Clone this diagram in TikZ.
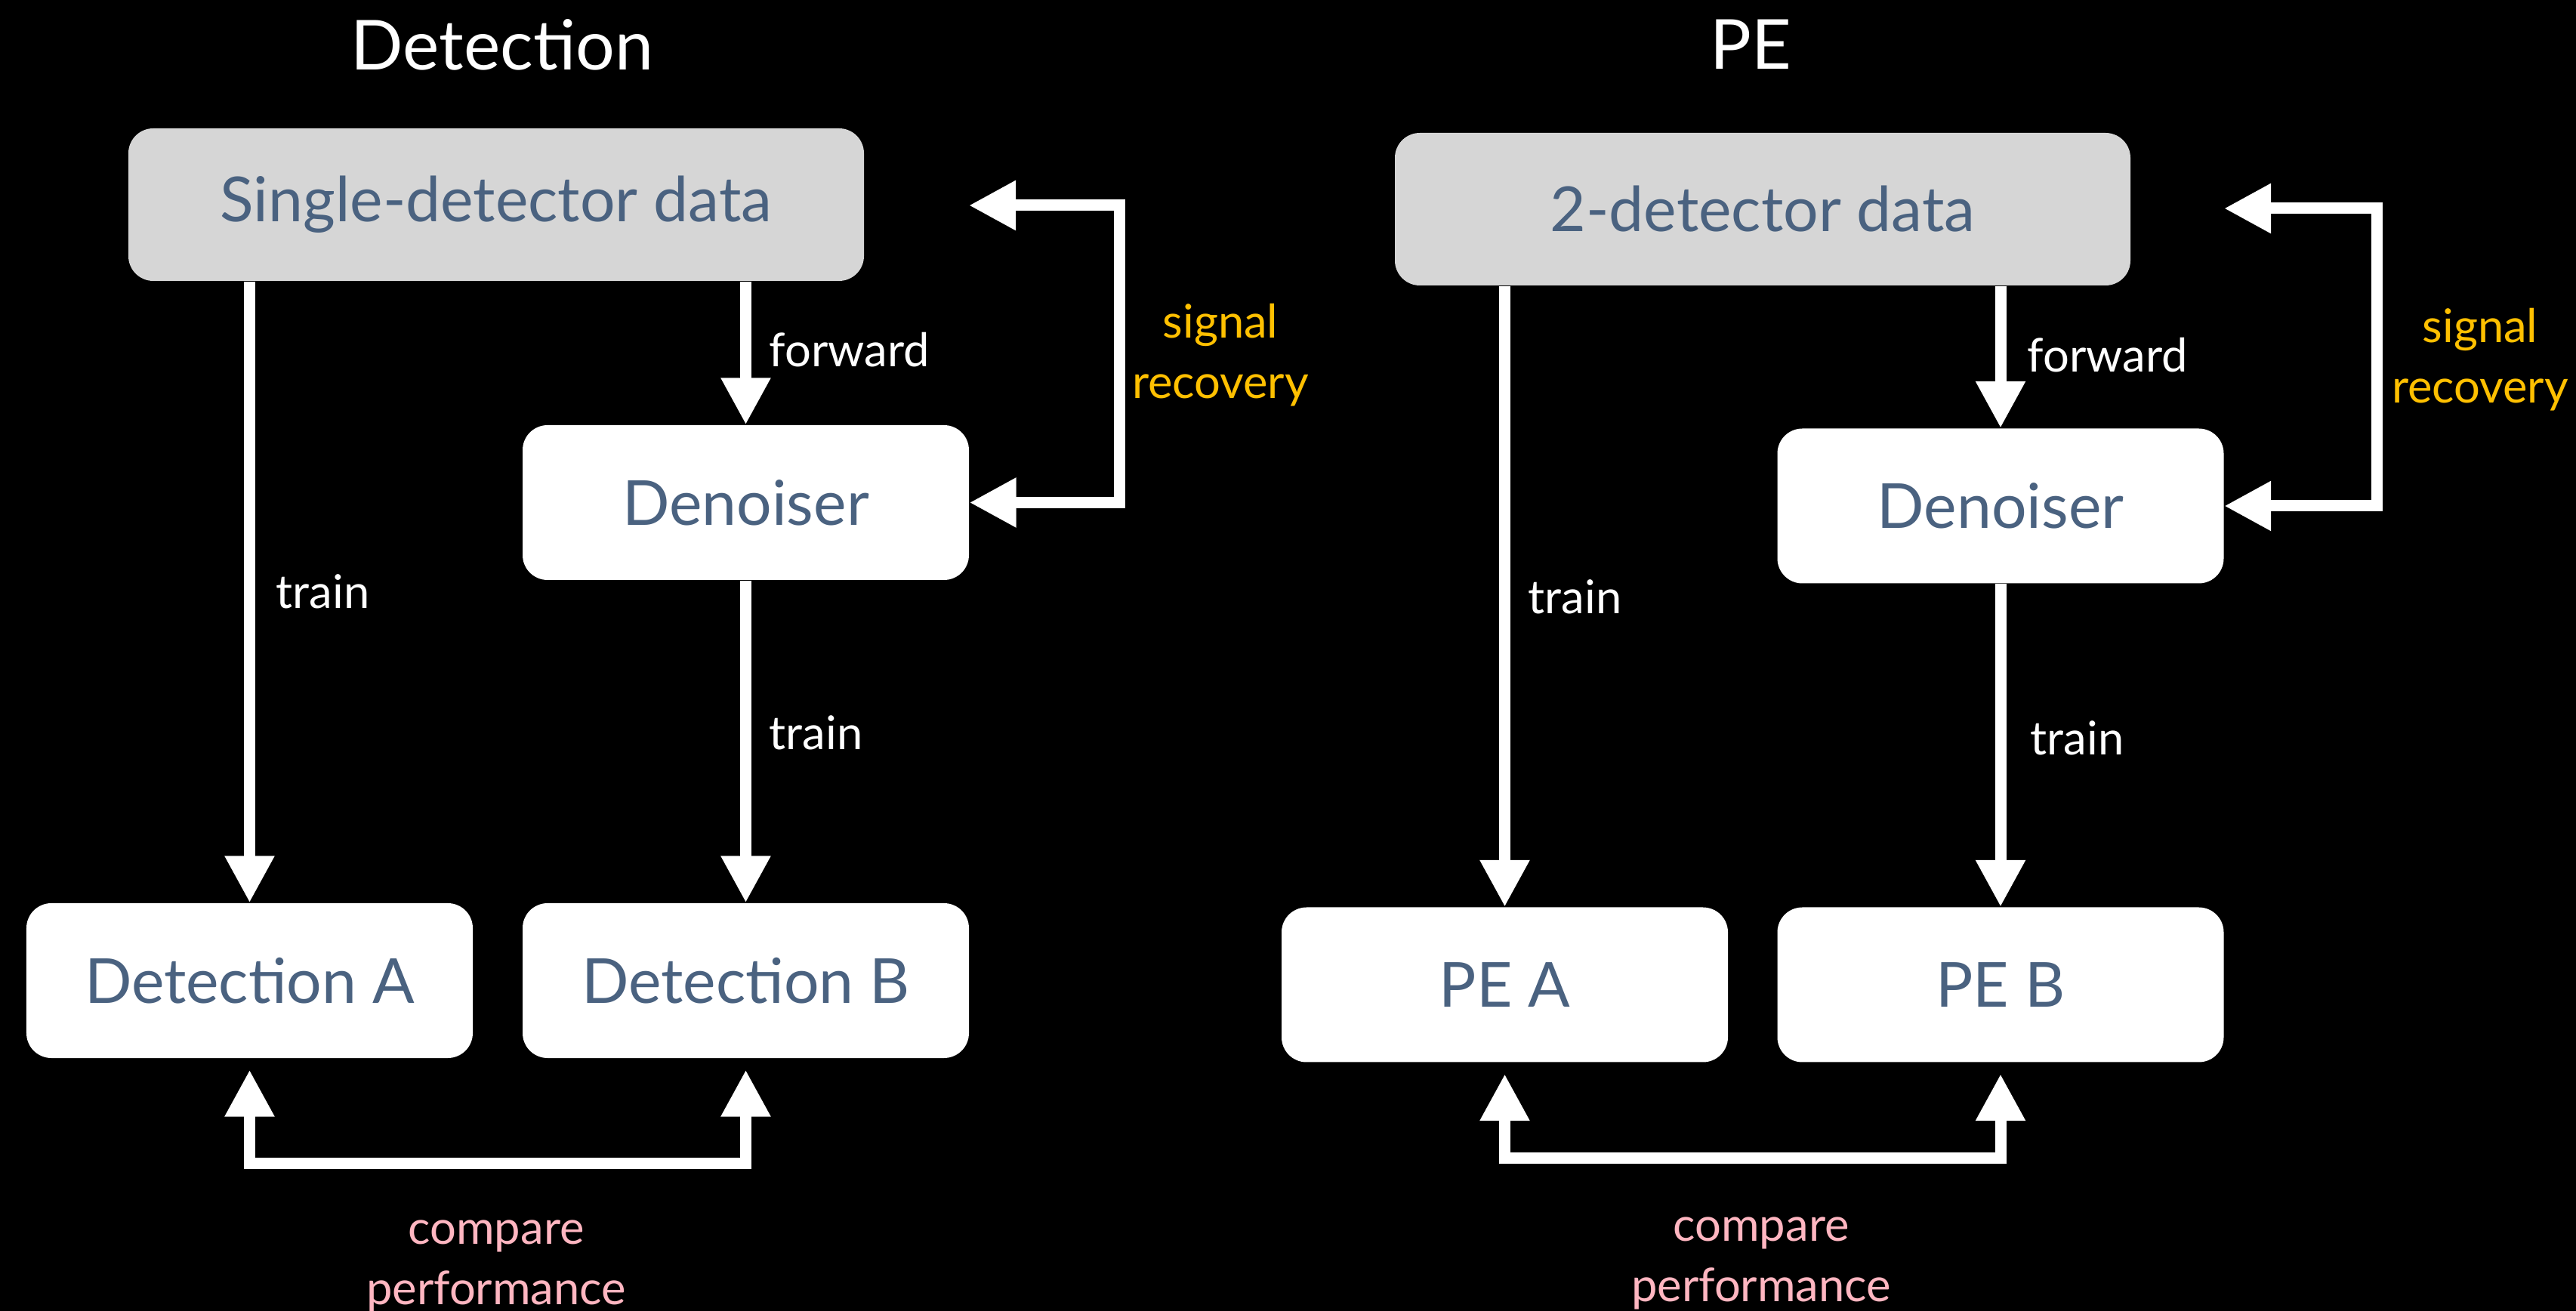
\documentclass[tikz,border=0pt]{standalone}
\usepackage{fontspec}
\setmainfont{Lato}
\usepackage{tikz}
\usetikzlibrary{arrows.meta,positioning}

\definecolor{slate}{HTML}{4A6280}
\definecolor{boxgray}{HTML}{D6D6D6}
\definecolor{gold}{HTML}{FFC000}
\definecolor{pinky}{HTML}{FFB6C1}

\begin{document}
\begin{tikzpicture}
		\tikzstyle{box}=[rectangle, rounded corners=0.33cm, fill=white, text=slate, minimum width=5.91cm, minimum height=2.05cm, inner sep=0pt, font=\fontsize{23.4}{28}\selectfont]
		\tikzstyle{databox}=[box, fill=boxgray, minimum width=9.74cm, minimum height=2.02cm]
		\tikzstyle{wire}=[draw=white, line width=0.15cm]
		\tikzstyle{title}=[text=white, font=\fontsize{26}{31}\selectfont]
		\tikzstyle{lab}=[text=white, font=\fontsize{17.5}{22.8}\selectfont, align=center, inner sep=0pt]
		\tikzset{>={Triangle[length=0.62cm, width=0.62cm]}}
		
		% Background
		\fill[black] (0,0) rectangle (34.11,-17.36);
		\useasboundingbox (0,0) rectangle (34.11,-17.36);
		
		% Detection
		\node[title] (title_1) at (6.65,-0.59) {Detection};
		\node[databox] (data_1) at (6.57,-2.71) {Single-detector data};
		\node[box] (den_1) at (9.875,-6.655) {Denoiser};
		\node[box] (detA) at (3.305,-12.985) {Detection A};
		\node[box] (detB) at (9.875,-12.985) {Detection B};
		\coordinate (sig_1) at (12.83,-2.72);
		\coordinate (corner_1) at (14.82,-2.72);
		
		\draw[wire, ->] (detA |- data_1.south) -- (detA.north);
		\draw[wire, ->] (den_1 |- data_1.south) -- (den_1.north);
		\draw[wire, ->] (den_1.south) -- (detB.north);
		\draw[wire, <->] (sig_1) -- (corner_1) |- (den_1.east);
		\draw[wire, <->, shorten <=0.15cm, shorten >=0.15cm] (detA.south) -- ++(0,-1.39) -| (detB.south);
		
		\node[lab, anchor=west] (fw_1) at (10.18,-4.63) {forward};
		\node[lab, anchor=west] (trA_1) at (3.65,-7.83) {train};
		\node[lab, anchor=west] (trB_1) at (10.18,-9.70) {train};
		\node[lab, text=gold] (rec_1) at (16.16,-4.70) {signal\\recovery};
		\node[lab, text=pinky] (cmp_1) at (6.57,-16.77) {compare\\performance};
		
		% PE
		\node[title] (title_2) at (23.18,-0.59) {PE};
		\node[databox] (data_2) at (23.34,-2.77) {2-detector data};
		\node[box] (den_2) at (26.49,-6.70) {Denoiser};
		\node[box] (peA) at (19.925,-13.04) {PE A};
		\node[box] (peB) at (26.49,-13.04) {PE B};
		\coordinate (sig_2) at (29.45,-2.76);
		\coordinate (corner_2) at (31.47,-2.76);
		
		\draw[wire, ->] (peA |- data_2.south) -- (peA.north);
		\draw[wire, ->] (den_2 |- data_2.south) -- (den_2.north);
		\draw[wire, ->] (den_2.south) -- (peB.north);
		\draw[wire, <->] (sig_2) -- (corner_2) |- (den_2.east);
		\draw[wire, <->, shorten <=0.15cm, shorten >=0.15cm] (peA.south) -- ++(0,-1.26) -| (peB.south);
		
		\node[lab, anchor=west] (fw_2) at (26.84,-4.70) {forward};
		\node[lab, anchor=west] (trA_2) at (20.23,-7.90) {train};
		\node[lab, anchor=west] (trB_2) at (26.88,-9.77) {train};
		\node[lab, text=gold] (rec_2) at (32.84,-4.76) {signal\\recovery};
		\node[lab, text=pinky] (cmp_2) at (23.32,-16.73) {compare\\performance};
		
\end{tikzpicture}
\end{document}
